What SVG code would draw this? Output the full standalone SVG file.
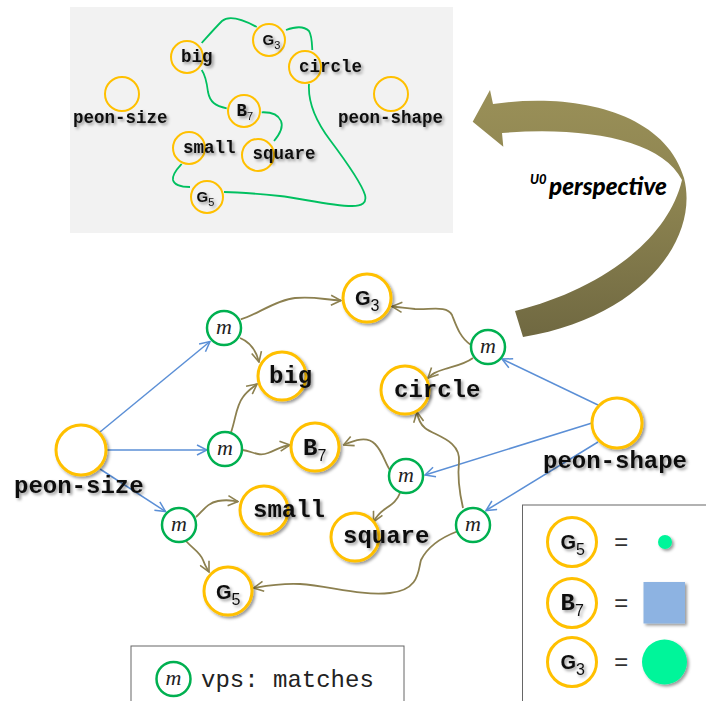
<svg xmlns="http://www.w3.org/2000/svg" width="706" height="701" viewBox="0 0 706 701">
<defs>
<style>
.lbl{font-family:"Liberation Mono",monospace;font-weight:bold;fill:#111;}
.big{font-size:24px;}
.sm{font-size:17.5px;}
.eq{font-family:"Liberation Mono",monospace;font-weight:normal;font-size:24px;fill:#333;}
.gs{font-family:"Liberation Sans",Arial,sans-serif;font-weight:bold;fill:#111;}
.sub{font-family:"Liberation Sans",Arial,sans-serif;font-weight:normal;fill:#111;}
.node{fill:#fff;stroke:#ffc000;stroke-width:3;}
.tnode{fill:#f2f2f2;stroke:#ffc000;stroke-width:2;}
.mnode{fill:#fff;stroke:#00b050;stroke-width:2.5;}
.mtxt{font-family:"Liberation Serif",serif;font-style:italic;font-size:22px;fill:#222;text-anchor:middle;}
.blue{fill:none;stroke:#5b8fd6;stroke-width:1.5;marker-end:url(#ab);}
.olive{fill:none;stroke:#8c8050;stroke-width:1.8;marker-end:url(#ao);}
.green{fill:none;stroke:#00c060;stroke-width:1.8;}
.sh{filter:url(#ds);}
</style>
<filter id="ds" x="-20%" y="-20%" width="150%" height="150%">
<feDropShadow dx="2" dy="2" stdDeviation="1.5" flood-color="#000" flood-opacity="0.4"/>
</filter>
<marker id="ab" viewBox="0 0 12 12" refX="11" refY="6" markerWidth="12" markerHeight="12" markerUnits="userSpaceOnUse" orient="auto">
<path d="M1,1 L11,6 L1,11" fill="none" stroke="#5b8fd6" stroke-width="1.5"/>
</marker>
<marker id="ao" viewBox="0 0 12 12" refX="11" refY="6" markerWidth="12" markerHeight="12" markerUnits="userSpaceOnUse" orient="auto">
<path d="M1,1 L11,6 L1,11" fill="none" stroke="#8c8050" stroke-width="1.6"/>
</marker>
<linearGradient id="ag" gradientUnits="userSpaceOnUse" x1="0" y1="90" x2="0" y2="340">
<stop offset="0" stop-color="#9a9058"/>
<stop offset="0.45" stop-color="#8c8350"/>
<stop offset="1" stop-color="#6f6841"/>
</linearGradient>
</defs>

<!-- top inset panel -->
<g id="inset">
<rect x="70" y="7" width="383" height="226" fill="#f2f2f2"/>
<g id="inset-links">
<path class="green" d="M286,30 C294,27 303,25 309,31 C312,36 312,44 312.3,50"/>
<path class="green" d="M309,84 C308,100 315,120 330,140 C345,160 362,185 365,195 C367,203 362,206 352,206 C330,206 300,198 280,196 C260,194 240,192 224,192"/>
<path class="green" d="M190,187 C180,187 174,184 173,180 C172,174 178,168 181.7,164"/>
<path class="green" d="M261.7,112.3 C270,112 278,114 281,121 C284,128 279,135 274,141"/>
<path class="green" d="M226.7,108.3 C215,106 210,102 208,92 C207,84 206,76 201.7,70"/>
<path class="green" d="M201.7,43 C208,36 215,28 222,21 C228,16 240,18 256.7,27"/>
</g>
<g id="t-big"><circle class="tnode" cx="187" cy="57" r="16"/><text class="lbl sm sh" x="181" y="62">big</text></g>
<g id="t-G3"><circle class="tnode" cx="269" cy="40" r="16"/><text class="gs sh" font-size="15" x="262.5" y="45">G<tspan class="sub" font-size="11" dy="4">3</tspan></text></g>
<g id="t-circle"><circle class="tnode" cx="305" cy="67" r="16"/><text class="lbl sm sh" x="299" y="72">circle</text></g>
<g id="t-peon-size"><circle class="tnode" cx="122" cy="94" r="17"/><text class="lbl sm sh" x="73" y="123">peon-size</text></g>
<g id="t-peon-shape"><circle class="tnode" cx="391" cy="94" r="17"/><text class="lbl sm sh" x="338" y="123">peon-shape</text></g>
<g id="t-B7"><circle class="tnode" cx="244" cy="111" r="16"/><text class="lbl sm sh" x="236.5" y="116">B<tspan class="sub" font-size="11" dy="4">7</tspan></text></g>
<g id="t-small"><circle class="tnode" cx="189" cy="148" r="16"/><text class="lbl sm sh" x="183" y="153">small</text></g>
<g id="t-square"><circle class="tnode" cx="258" cy="155" r="16"/><text class="lbl sm sh" x="252.5" y="159">square</text></g>
<g id="t-G5"><circle class="tnode" cx="207" cy="197" r="16"/><text class="gs sh" font-size="15" x="196.5" y="202">G<tspan class="sub" font-size="11" dy="4">5</tspan></text></g>
</g>

<!-- big curved arrow -->
<g id="perspective-arrow">
<path fill="url(#ag)" d="M472.7,121.7 L490,90 L493,104 C575,92 665,112 684,178 C700,240 640,318 523,337 L515,311 C600,290 668,240 682,180 C662,140 585,126 502,133 L503.3,146.7 Z"/>
<text font-family="Lato,'Liberation Sans',sans-serif" font-weight="900" font-style="italic" fill="#000"><tspan x="530" y="184" font-size="13">U0</tspan><tspan x="549" y="195" font-size="24" textLength="118" lengthAdjust="spacingAndGlyphs">perspective</tspan></text>
</g>

<!-- connectors -->
<g id="connectors">
<path class="blue" d="M100,432 L210,341.5"/>
<path class="blue" d="M107,450 L207,450"/>
<path class="blue" d="M100,469 L165.5,511.5"/>
<path class="blue" d="M598,405 L502,359"/>
<path class="blue" d="M592,423 L425,475"/>
<path class="blue" d="M598,442 L486,510.5"/>
<path class="olive" d="M240.7,319.3 C255,316 275,300 295,298 S325,300 341,300.5"/>
<path class="olive" d="M240,338 C250,342 256,350 259,362"/>
<path class="olive" d="M231,432.5 C236,418 236,406 243,397 C247,391 252,388 257,384"/>
<path class="olive" d="M242.5,450 C252,451 258,457 268,453 S282,446 290,445"/>
<path class="olive" d="M196,517 C203,511 207,503 218,501 S232,501 238,501.5"/>
<path class="olive" d="M186,541 C193,549 200,552 203,560 S207,568 209,572"/>
<path class="olive" d="M471,345 C460,338 456,325 452,315 C447,305 430,310 415,309 C405,308 398,307 392,306.5"/>
<path class="olive" d="M473,358 C465,364 455,366 445,369 S432,374 428,378"/>
<path class="olive" d="M390,470 C385,463 383,452 375,444 S355,440 343.5,445"/>
<path class="olive" d="M400,493 C397,501 392,504 385,509 S376,517 373.5,522"/>
<path class="olive" d="M463,508 C460,495 457,480 459,462 C461,440 435,436 425,428 C420,424 418,418 417,412"/>
<path class="olive" d="M457,531.5 C440,538 427,548 421,560 C418,570 420,590 390,593 C360,596 330,586 300,584 C280,583 265,586 253.5,588"/>
</g>

<!-- nodes -->
<g id="peon-size"><circle class="node sh" cx="81" cy="450" r="25"/><text class="lbl big sh" x="14" y="493">peon-size</text></g>
<g id="peon-shape"><circle class="node sh" cx="617" cy="423" r="25"/><text class="lbl big sh" x="543" y="468">peon-shape</text></g>
<g id="m1"><circle class="mnode" cx="224" cy="328" r="17"/><text class="mtxt" x="224" y="334">m</text></g>
<g id="m2"><circle class="mnode" cx="225" cy="449" r="17"/><text class="mtxt" x="225" y="455">m</text></g>
<g id="m3"><circle class="mnode" cx="179" cy="525" r="17"/><text class="mtxt" x="179" y="531">m</text></g>
<g id="m4"><circle class="mnode" cx="488" cy="347" r="17"/><text class="mtxt" x="488" y="353">m</text></g>
<g id="m5"><circle class="mnode" cx="406" cy="476" r="17"/><text class="mtxt" x="406" y="482">m</text></g>
<g id="m6"><circle class="mnode" cx="473" cy="525" r="17"/><text class="mtxt" x="473" y="531">m</text></g>
<g id="G3"><circle class="node sh" cx="367" cy="298" r="24"/><text class="gs sh" font-size="20" x="355" y="305">G<tspan class="sub" font-size="16" dy="6">3</tspan></text></g>
<g id="big"><circle class="node sh" cx="282" cy="376" r="24"/><text class="lbl big sh" x="269" y="383">big</text></g>
<g id="circle"><circle class="node sh" cx="405" cy="390" r="24"/><text class="lbl big sh" x="394" y="397">circle</text></g>
<g id="B7"><circle class="node sh" cx="315" cy="447" r="24"/><text class="lbl big sh" x="303" y="455">B<tspan class="sub" font-size="16" dy="6">7</tspan></text></g>
<g id="small"><circle class="node sh" cx="264" cy="510" r="24"/><text class="lbl big sh" x="253" y="517">small</text></g>
<g id="square"><circle class="node sh" cx="355" cy="537" r="24"/><text class="lbl big sh" x="343" y="543">square</text></g>
<g id="G5"><circle class="node sh" cx="228" cy="591" r="24"/><text class="gs sh" font-size="20" x="216" y="599">G<tspan class="sub" font-size="16" dy="6">5</tspan></text></g>

<!-- legends -->
<g id="legend-shapes">
<rect x="522.5" y="505" width="200" height="210" fill="#fff" stroke="#666" stroke-width="1"/>
<circle class="node" cx="572" cy="542" r="24.5"/>
<text class="gs sh" font-size="20" x="560.5" y="549">G<tspan class="sub" font-size="16" dy="6">5</tspan></text>
<text class="eq" x="614" y="550">=</text>
<circle class="sh" cx="665" cy="542" r="7" fill="#00f59a"/>
<circle class="node" cx="572" cy="603" r="24.5"/>
<text class="lbl big sh" x="560.5" y="610">B<tspan class="sub" font-size="16" dy="6">7</tspan></text>
<text class="eq" x="614" y="611">=</text>
<rect class="sh" x="643.5" y="582" width="41.5" height="41.5" fill="#8db3e2"/>
<circle class="node" cx="572" cy="662" r="24.5"/>
<text class="gs sh" font-size="20" x="560.5" y="669">G<tspan class="sub" font-size="16" dy="6">3</tspan></text>
<text class="eq" x="614" y="670">=</text>
<circle class="sh" cx="664.5" cy="662" r="22.5" fill="#00f59a"/>
</g>
<g id="legend-vps">
<rect x="131" y="646" width="273" height="70" fill="#fff" stroke="#666" stroke-width="1"/>
<circle class="mnode" cx="173.5" cy="679" r="17"/>
<text class="mtxt" x="173.5" y="685">m</text>
<text font-family="'Liberation Mono',monospace" font-size="24" fill="#222" x="201" y="687">vps: matches</text>
</g>
</svg>
